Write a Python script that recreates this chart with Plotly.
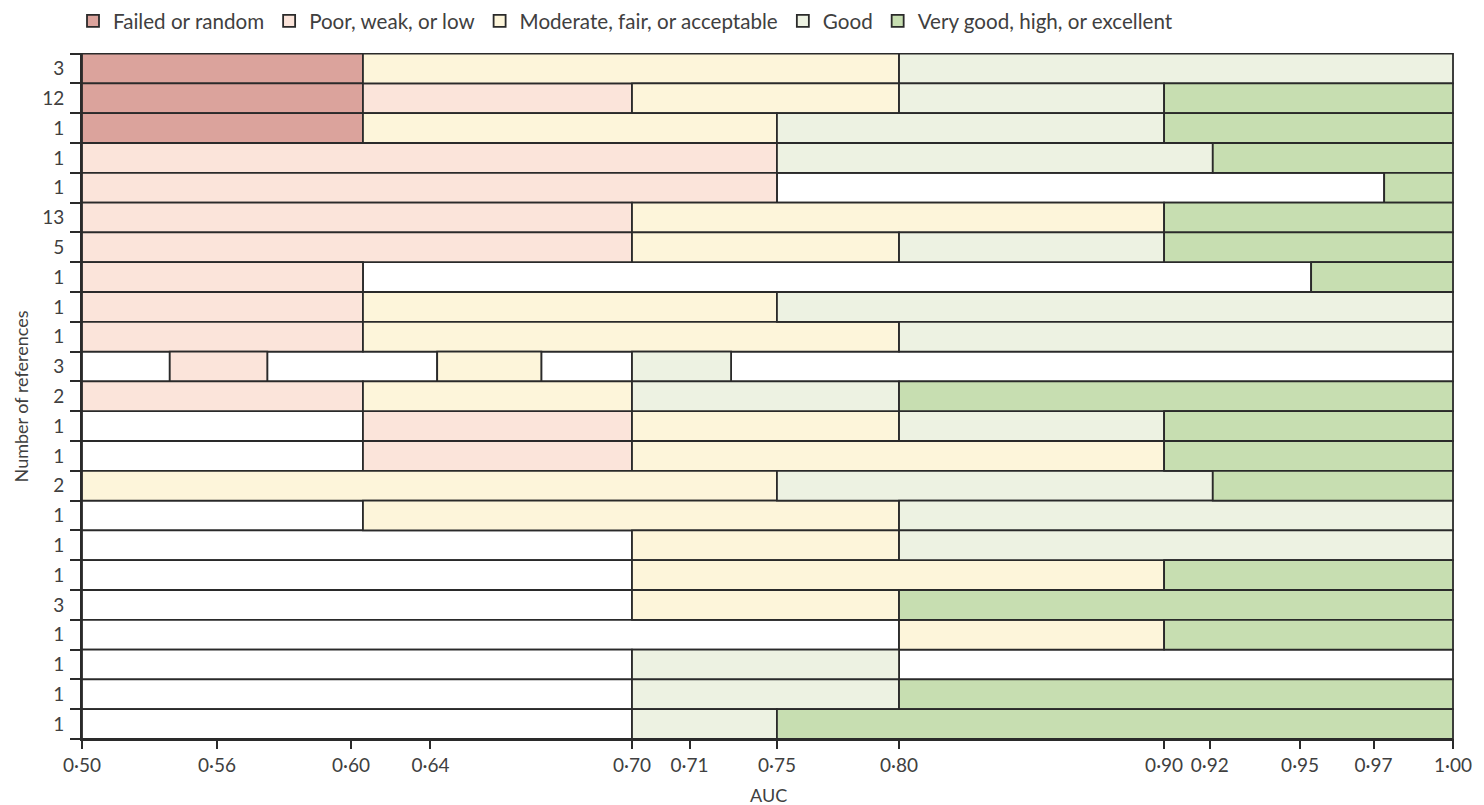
import numpy as np
import plotly.graph_objects as go

# ---- AUC axis: printed ticks and where each sits along the (non-linear) axis ----
AUC_TICKS = [0.50, 0.56, 0.60, 0.64, 0.70, 0.71, 0.75, 0.80, 0.90, 0.92, 0.95, 0.97, 1.00]
TICK_LABELS = ["0·50", "0·56", "0·60", "0·64", "0·70", "0·71", "0·75", "0·80",
               "0·90", "0·92", "0·95", "0·97", "1·00"]
SCALE_POS = [0, 136, 271, 351, 554, 612, 700, 823, 1090, 1136, 1227, 1301, 1381]

# ---- categories ----
CATEGORIES = ["Failed or random", "Poor, weak, or low", "Moderate, fair, or acceptable",
              "Good", "Very good, high, or excellent"]
CAT_KEYS = ["F", "P", "M", "G", "V"]
CAT_COLORS = ["#dba39c", "#fbe4da", "#fdf5da", "#edf2e2", "#c7deb1"]

# ---- one row per grading scheme: number of references, segment upper bounds, class ----
N_REFERENCES = ["3", "12", "1", "1", "1", "13", "5", "1", "1", "1", "3", "2",
                "1", "1", "2", "1", "1", "1", "3", "1", "1", "1", "1"]
ROW_BOUNDS = [
    [0.606, 0.80, 1.00],
    [0.606, 0.70, 0.80, 0.90, 1.00],
    [0.606, 0.75, 0.90, 1.00],
    [0.75, 0.921, 1.00],
    [0.75, 0.974, 1.00],
    [0.70, 0.90, 1.00],
    [0.70, 0.80, 0.90, 1.00],
    [0.606, 0.953, 1.00],
    [0.606, 0.75, 1.00],
    [0.606, 0.80, 1.00],
    [0.539, 0.575, 0.642, 0.673, 0.70, 0.729, 1.00],
    [0.606, 0.70, 0.80, 1.00],
    [0.606, 0.70, 0.80, 0.90, 1.00],
    [0.606, 0.70, 0.90, 1.00],
    [0.75, 0.921, 1.00],
    [0.606, 0.80, 1.00],
    [0.70, 0.80, 1.00],
    [0.70, 0.90, 1.00],
    [0.70, 0.80, 1.00],
    [0.80, 0.90, 1.00],
    [0.70, 0.80, 1.00],
    [0.70, 0.80, 1.00],
    [0.70, 0.75, 1.00],
]
ROW_CLASSES = [
    ["F", "M", "G"],
    ["F", "P", "M", "G", "V"],
    ["F", "M", "G", "V"],
    ["P", "G", "V"],
    ["P", "-", "V"],
    ["P", "M", "V"],
    ["P", "M", "G", "V"],
    ["P", "-", "V"],
    ["P", "M", "G"],
    ["P", "M", "G"],
    ["-", "P", "-", "M", "-", "G", "-"],
    ["P", "M", "G", "V"],
    ["-", "P", "M", "G", "V"],
    ["-", "P", "M", "V"],
    ["M", "G", "V"],
    ["-", "M", "G"],
    ["-", "M", "G"],
    ["-", "M", "V"],
    ["-", "M", "V"],
    ["-", "M", "V"],
    ["-", "G", "-"],
    ["-", "G", "V"],
    ["-", "G", "V"],
]
AUC_START = 0.50

LINE = "#2a2a2a"
TEXT = "#404040"
FONT = "Lato"


def to_axis(auc):
    """Map AUC values onto the piecewise axis."""
    return np.interp(auc, AUC_TICKS, SCALE_POS)


# collect segments by class
segments = {k: {"y": [], "base": [], "len": []} for k in CAT_KEYS + ["-"]}
for row, (bounds, classes) in enumerate(zip(ROW_BOUNDS, ROW_CLASSES)):
    lo = AUC_START
    for hi, cls in zip(bounds, classes):
        a, b = to_axis(lo), to_axis(hi)
        segments[cls]["y"].append(row)
        segments[cls]["base"].append(a)
        segments[cls]["len"].append(b - a)
        lo = hi

fig = go.Figure()

# blank (unclassified) stretches first
s = segments["-"]
fig.add_trace(go.Bar(
    x=s["len"], y=s["y"], base=s["base"], orientation="h", width=1,
    marker=dict(color="#ffffff", line=dict(color=LINE, width=1.8)),
    showlegend=False, hoverinfo="skip",
))
for key, name, color in zip(CAT_KEYS, CATEGORIES, CAT_COLORS):
    s = segments[key]
    fig.add_trace(go.Bar(
        x=s["len"], y=s["y"], base=s["base"], orientation="h", width=1, name=name,
        marker=dict(color=color, line=dict(color=LINE, width=1.8)),
    ))

n_rows = len(N_REFERENCES)
fig.update_layout(
    width=1484, height=805,
    margin=dict(l=82, r=20, t=48, b=66),
    paper_bgcolor="white", plot_bgcolor="white",
    barmode="overlay",
    font=dict(family=FONT, size=19, color=TEXT),
    legend=dict(orientation="h", xref="container", yref="container",
                x=73 / 1484, xanchor="left", y=1 - 21 / 805, yanchor="middle",
                bgcolor="rgba(0,0,0,0)",
                font=dict(size=20.6, color=TEXT), traceorder="normal",
                itemclick=False, itemdoubleclick=False),
    xaxis=dict(
        range=[0, 1382], tickmode="array",
        tickvals=to_axis(AUC_TICKS), ticktext=TICK_LABELS,
        ticks="outside", ticklen=8, tickwidth=1.8, tickcolor=LINE,
        showline=True, linecolor=LINE, linewidth=1.8,
        showgrid=False, zeroline=False,
        tickfont=dict(size=19, color=TEXT),
    ),
    yaxis=dict(
        range=[n_rows - 0.5, -0.52], tickmode="array",
        tickvals=list(range(n_rows)), ticktext=N_REFERENCES,
        ticks="", ticklabelstandoff=12,
        minor=dict(tickmode="array", tickvals=[i - 0.5 for i in range(n_rows + 1)],
                   ticks="outside", ticklen=10, tickwidth=1.8, tickcolor=LINE),
        showline=True, linecolor=LINE, linewidth=1.8,
        showgrid=False, zeroline=False,
        tickfont=dict(size=19, color=TEXT),
    ),
    annotations=[
        dict(text="Number of references", textangle=-90, xref="paper", yref="paper",
             x=(21 - 82) / 1382, y=0.5, xanchor="center", yanchor="middle",
             showarrow=False, font=dict(size=18, color=TEXT)),
        dict(text="AUC", xref="paper", yref="paper", x=(773 - 82) / 1382,
             y=-(795 - 739) / 691, xanchor="center", yanchor="middle",
             showarrow=False, font=dict(size=18, color=TEXT)),
    ],
)

fig.write_html("out.html")
